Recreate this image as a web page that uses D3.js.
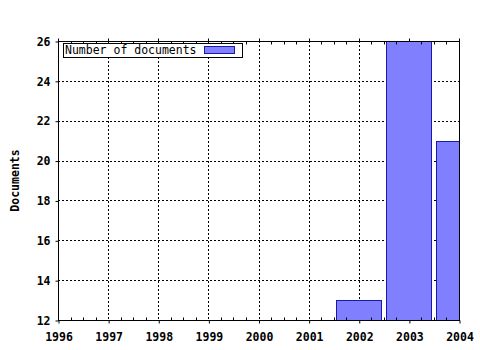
<!DOCTYPE html>
<html>
<head>
<meta charset="utf-8">
<script src="https://cdn.jsdelivr.net/npm/d3@7"></script>
<style>
  body { margin: 0; background: #fff; }
  text { font-family: "DejaVu Sans Mono", monospace; }
</style>
</head>
<body>
<div id="chart"></div>
<script>
// chart values
var years = [2002, 2003, 2004];
var documents = [13, 26, 21];
var xTicks = [1996, 1997, 1998, 1999, 2000, 2001, 2002, 2003, 2004];
var yTicks = [12, 14, 16, 18, 20, 22, 24, 26];
var seriesName = "Number of documents";
var yTitle = "Documents";

var svgWidth = 480;
var svgHeight = 350;

var plot = { left: 58, right: 459, top: 41, bottom: 320 };

var svg = d3.select("#chart")
    .append("svg")
    .attr("width", svgWidth)
    .attr("height", svgHeight);

var x = d3.scaleLinear().domain([1996, 2004]).range([plot.left, plot.right]);
var y = d3.scaleLinear().domain([12, 26]).range([plot.bottom, plot.top]);

// minor ticks every quarter year
var minorTicks = [];
for (var i = 0; i < xTicks.length - 1; i++) {
    for (var k = 1; k < 4; k++) minorTicks.push(xTicks[i] + k / 4);
}

svg.append("defs").append("clipPath")
    .attr("id", "plotClip")
    .append("rect")
    .attr("x", plot.left)
    .attr("y", plot.top)
    .attr("width", plot.right - plot.left + 1)
    .attr("height", plot.bottom - plot.top + 1);

// grid
var grid = svg.append("g")
    .attr("stroke", "#000")
    .attr("stroke-width", 1)
    .attr("stroke-dasharray", "2,2");

grid.selectAll(".vgrid")
    .data(xTicks.slice(1, -1))
    .enter()
    .append("line")
    .attr("x1", d => Math.round(x(d)) + 0.5)
    .attr("x2", d => Math.round(x(d)) + 0.5)
    .attr("y1", plot.top)
    .attr("y2", plot.bottom);

grid.selectAll(".hgrid")
    .data(yTicks.slice(1, -1))
    .enter()
    .append("line")
    .attr("y1", d => Math.round(y(d)) + 0.5)
    .attr("y2", d => Math.round(y(d)) + 0.5)
    .attr("x1", plot.left)
    .attr("x2", plot.right);

// bars
var barWidth = (x(1997) - x(1996)) * 0.9;
var data = years.map((yr, i) => ({ year: yr, value: documents[i] }));

svg.append("g")
    .attr("clip-path", "url(#plotClip)")
    .selectAll("rect")
    .data(data)
    .enter()
    .append("rect")
    .attr("x", d => Math.round(x(d.year) - barWidth / 2) + 0.5)
    .attr("y", d => Math.round(y(d.value)) + 0.5)
    .attr("width", Math.round(barWidth))
    .attr("height", d => Math.round(y(12)) - Math.round(y(d.value)))
    .attr("fill", "#8080ff")
    .attr("stroke", "#1a1aa8")
    .attr("stroke-width", 1);

// frame
svg.append("rect")
    .attr("x", plot.left + 0.5)
    .attr("y", plot.top + 0.5)
    .attr("width", plot.right - plot.left)
    .attr("height", plot.bottom - plot.top)
    .attr("fill", "none")
    .attr("stroke", "#000");

// x axis bottom
var bottomAxis = d3.axisBottom(x)
    .tickValues(xTicks)
    .tickFormat(d3.format("d"))
    .tickSizeInner(3)
    .tickSizeOuter(0)
    .tickPadding(9);

var xAxis = svg.append("g")
    .attr("transform", `translate(0.5, ${plot.bottom + 0.5})`)
    .call(bottomAxis);
xAxis.select(".domain").remove();

xAxis.selectAll(".minor")
    .data(minorTicks)
    .enter()
    .append("line")
    .attr("x1", d => Math.round(x(d)))
    .attr("x2", d => Math.round(x(d)))
    .attr("y1", 0)
    .attr("y2", -3)
    .attr("stroke", "#000");

// x axis top (mirror)
var topTicks = svg.append("g")
    .attr("transform", `translate(0.5, ${plot.top + 0.5})`)
    .attr("stroke", "#000");
topTicks.selectAll(".major")
    .data(xTicks)
    .enter()
    .append("line")
    .attr("x1", d => Math.round(x(d)))
    .attr("x2", d => Math.round(x(d)))
    .attr("y1", 0)
    .attr("y2", -3);
topTicks.selectAll(".minor")
    .data(minorTicks)
    .enter()
    .append("line")
    .attr("x1", d => Math.round(x(d)))
    .attr("x2", d => Math.round(x(d)))
    .attr("y1", 0)
    .attr("y2", 3);

// y axis left
var leftAxis = d3.axisLeft(y)
    .tickValues(yTicks)
    .tickSizeInner(3)
    .tickSizeOuter(0)
    .tickPadding(5);

var yAxis = svg.append("g")
    .attr("transform", `translate(${plot.left + 0.5}, 0.5)`)
    .call(leftAxis);
yAxis.select(".domain").remove();

svg.selectAll(".tick text")
    .attr("font-family", "DejaVu Sans Mono, monospace")
    .attr("font-size", "11.5px")
    .attr("font-weight", "bold")
    .attr("fill", "#000");

// y title
svg.append("text")
    .attr("transform", `translate(19, ${(plot.top + plot.bottom) / 2}) rotate(-90)`)
    .attr("text-anchor", "middle")
    .attr("font-size", "11.5px")
    .attr("font-weight", "bold")
    .text(yTitle);

// legend
var legend = svg.append("g");
legend.append("rect")
    .attr("x", 63.5)
    .attr("y", 43.5)
    .attr("width", 179)
    .attr("height", 14)
    .attr("fill", "#fff")
    .attr("stroke", "#000");
legend.append("text")
    .attr("x", 65)
    .attr("y", 54)
    .attr("font-size", "11.5px")
    .text(seriesName);
legend.append("rect")
    .attr("x", 204.5)
    .attr("y", 46.5)
    .attr("width", 30)
    .attr("height", 7)
    .attr("fill", "#8080ff")
    .attr("stroke", "#1a1aa8");
</script>
</body>
</html>
